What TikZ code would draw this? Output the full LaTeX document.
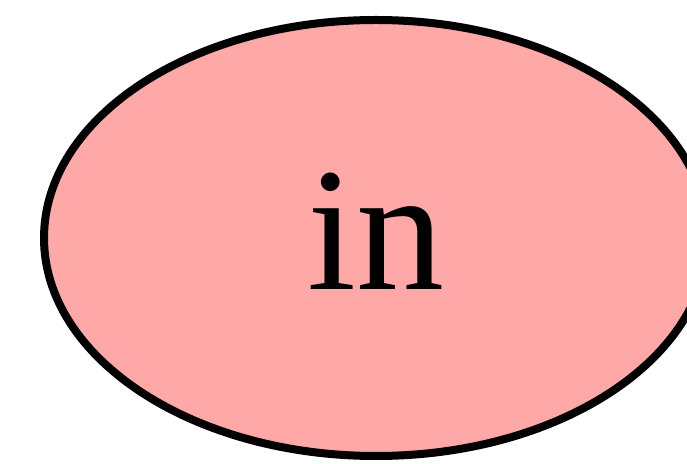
\documentclass[tikz,border=0pt]{standalone}
\usepackage{fontspec}
\setmainfont{Liberation Serif}
\usetikzlibrary{shapes.geometric}
\definecolor{statepink}{RGB}{255,168,168}

\begin{document}
\begin{tikzpicture}[
  x=1pt, y=1pt,
  state/.style={draw=black, ellipse, fill=statepink, line width=8pt,
    minimum width=664pt, minimum height=436pt, inner sep=0pt,
    text height=104pt, text depth=0pt,
    font=\fontsize{176}{176}\selectfont}
]
\useasboundingbox (0,0) rectangle (687,463);
\node[state] (in) at (376,225) {in};
\end{tikzpicture}
\end{document}
